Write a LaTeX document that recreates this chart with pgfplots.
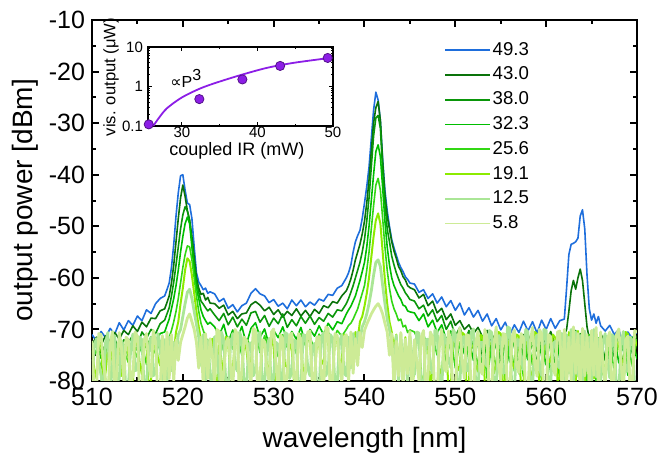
\documentclass[border=0pt]{standalone}
\usepackage{fontspec}
\setmainfont{Liberation Sans}
\newfontfamily\dejavu{DejaVu Sans}
\usepackage{pgfplots}
\pgfplotsset{compat=1.18}
\usepackage{pgfplotstable}
\definecolor{cA}{RGB}{30,110,220}
\definecolor{cB}{RGB}{10,115,10}
\definecolor{cC}{RGB}{10,150,10}
\definecolor{cD}{RGB}{0,190,0}
\definecolor{cE}{RGB}{50,215,20}
\definecolor{cF}{RGB}{140,235,0}
\definecolor{cG}{RGB}{170,230,150}
\definecolor{cH}{RGB}{205,235,150}
\definecolor{vio}{RGB}{140,30,230}

% series 49.3 (A) ... 25.6 (E)
\pgfplotstableread{
wl A B C D E
510 -71.0 -72.8 -73.8 -74.5 -76.2
510.5 -72.3 -71.5 -72.2 -72.8 -73.9
511 -70.4 -73.0 -74.6 -75.6 -77.5
511.5 -71.6 -71.2 -72.9 -73.4 -74.3
512 -69.8 -72.4 -73.5 -76.0 -75.8
512.5 -70.9 -70.6 -71.8 -72.5 -73.1
513 -68.7 -71.9 -74.0 -74.8 -77.0
513.5 -70.1 -70.2 -72.0 -73.0 -74.0
514 -68.3 -71.0 -72.6 -75.2 -76.4
514.5 -69.2 -69.3 -71.1 -72.2 -73.2
515 -67.4 -70.4 -73.2 -74.1 -75.5
515.5 -68.3 -68.6 -70.5 -71.9 -72.9
516 -66.2 -69.5 -71.7 -73.6 -76.8
516.5 -66.9 -67.8 -70.0 -71.4 -72.6
517 -65.0 -67.9 -70.8 -72.7 -74.7
517.5 -64.0 -66.4 -68.9 -70.8 -72.3
518 -63.5 -66.0 -68.2 -70.5 -73.0
518.25 -62.3 -64.8 -67.0 -69.2 -72.4
518.5 -61.0 -63.5 -65.8 -68.0 -71.5
518.75 -58.0 -61.0 -63.5 -66.0 -70.2
519 -53.5 -57.5 -60.8 -64.0 -68.5
519.25 -48.0 -53.0 -57.5 -61.5 -66.5
519.5 -43.5 -48.5 -54.0 -58.5 -64.0
519.75 -40.2 -44.5 -50.5 -55.0 -61.0
520 -40.0 -42.0 -47.8 -52.0 -58.0
520.25 -43.0 -44.2 -46.2 -49.5 -55.5
520.5 -45.5 -47.0 -47.0 -48.2 -53.8
520.75 -45.8 -48.8 -49.0 -49.5 -54.0
521 -48.5 -52.0 -53.0 -54.0 -56.5
521.25 -54.0 -56.0 -57.0 -58.5 -60.0
521.5 -59.0 -60.0 -60.8 -62.0 -63.5
521.75 -60.8 -62.0 -62.8 -64.0 -66.5
522 -61.5 -63.2 -64.5 -66.2 -68.8
522.25 -62.3 -63.0 -65.1 -67.5 -70.2
522.5 -62.0 -64.3 -65.8 -68.3 -71.3
522.75 -63.0 -63.8 -66.4 -69.0 -72.5
523 -62.7 -64.9 -66.0 -68.6 -71.8
523.5 -63.1 -65.0 -67.2 -69.5 -72.8
524 -64.6 -65.9 -68.3 -71.2 -70.9
524.5 -64.0 -65.3 -66.9 -69.0 -74.2
525 -65.9 -67.2 -69.1 -72.4 -71.5
525.5 -65.2 -66.5 -67.6 -70.1 -73.8
526 -66.6 -67.9 -69.5 -71.8 -71.1
526.5 -65.4 -67.0 -68.0 -69.4 -75.0
527 -64.9 -66.8 -69.2 -72.9 -71.8
527.5 -63.0 -65.2 -66.8 -69.8 -73.2
528 -62.1 -64.6 -66.5 -68.7 -70.6
528.5 -63.1 -65.3 -68.6 -71.5 -74.5
529 -63.5 -66.4 -67.3 -69.9 -71.2
529.5 -64.8 -65.7 -69.4 -73.0 -73.9
530 -64.2 -67.1 -67.8 -70.2 -71.7
530.5 -65.5 -66.2 -68.9 -71.6 -75.3
531 -64.9 -67.6 -67.0 -69.5 -71.0
531.5 -66.0 -66.5 -69.6 -72.2 -73.5
532 -64.3 -67.3 -68.1 -70.4 -72.2
532.5 -65.4 -66.0 -69.3 -71.9 -74.7
533 -64.3 -67.4 -67.5 -69.6 -70.8
533.5 -65.6 -66.3 -68.8 -72.8 -73.1
534 -64.7 -67.5 -67.4 -70.0 -71.4
534.5 -65.3 -66.1 -69.0 -71.3 -74.0
535 -64.1 -66.9 -67.7 -69.3 -70.9
535.5 -64.5 -65.4 -68.4 -71.0 -72.6
536 -63.2 -65.8 -66.9 -68.8 -70.5
536.5 -63.4 -64.6 -67.6 -70.1 -72.3
537 -62.0 -64.9 -66.2 -68.5 -70.2
537.5 -61.5 -63.5 -66.4 -68.9 -71.3
538 -60.0 -62.5 -65.0 -67.0 -70.0
538.25 -59.0 -61.5 -64.0 -66.2 -69.2
538.5 -57.5 -60.2 -62.8 -65.5 -68.8
538.75 -55.0 -58.5 -61.5 -64.5 -68.0
539 -53.0 -56.5 -60.0 -63.5 -67.0
539.25 -51.8 -55.0 -58.5 -62.0 -66.0
539.5 -50.8 -53.5 -57.0 -60.5 -64.5
539.75 -48.5 -51.5 -55.0 -58.8 -63.0
540 -45.5 -49.0 -52.5 -57.0 -61.5
540.25 -42.3 -45.5 -49.0 -54.0 -58.5
540.5 -38.5 -41.0 -44.5 -50.0 -55.0
540.75 -33.0 -35.5 -38.5 -45.0 -50.5
541 -27.5 -30.0 -32.5 -40.0 -46.0
541.25 -24.0 -27.0 -29.0 -35.5 -42.0
541.5 -25.5 -25.8 -28.5 -34.2 -40.7
541.75 -29.5 -29.5 -31.0 -36.5 -43.0
542 -37.0 -37.5 -39.0 -42.5 -48.5
542.25 -43.0 -44.0 -45.5 -49.0 -54.0
542.5 -47.0 -48.0 -50.5 -54.0 -58.5
542.75 -50.0 -50.5 -53.0 -57.5 -62.0
543 -52.6 -53.0 -55.8 -60.0 -64.5
543.25 -54.2 -54.8 -57.5 -61.5 -66.0
543.5 -55.6 -56.2 -59.0 -62.5 -67.0
543.75 -57.0 -57.8 -60.2 -63.5 -68.3
544 -58.0 -58.6 -61.3 -64.2 -68.0
544.25 -58.8 -59.8 -62.0 -65.3 -69.5
544.5 -59.8 -60.4 -62.9 -65.5 -69.2
544.75 -60.3 -61.5 -63.5 -66.4 -70.6
545 -61.0 -61.9 -64.2 -66.6 -70.1
545.5 -61.2 -62.3 -64.5 -66.8 -70.5
546 -62.8 -63.9 -66.0 -68.3 -72.6
546.5 -62.3 -63.2 -65.3 -67.0 -70.9
547 -64.0 -65.4 -67.4 -69.5 -73.8
547.5 -63.1 -64.5 -66.2 -68.2 -71.4
548 -64.9 -66.8 -68.5 -70.6 -75.0
548.5 -63.7 -65.9 -67.3 -69.1 -72.0
549 -65.6 -68.1 -70.0 -72.0 -76.3
549.5 -64.4 -67.0 -68.4 -70.3 -71.6
550 -66.3 -69.2 -71.3 -73.5 -77.5
550.5 -64.9 -68.3 -69.6 -71.0 -72.4
551 -67.2 -70.0 -72.5 -74.8 -78.8
551.5 -65.8 -69.1 -70.2 -71.9 -71.8
552 -67.6 -70.8 -73.8 -76.0 -72.7
552.5 -66.3 -69.6 -71.0 -72.3 -76.9
553 -68.4 -71.5 -75.2 -77.5 -71.2
553.5 -67.0 -70.2 -71.5 -71.7 -79.5
554 -69.3 -72.3 -74.0 -75.4 -73.0
554.5 -67.9 -70.5 -72.0 -72.8 -77.4
555 -70.1 -73.4 -76.1 -78.0 -72.0
555.5 -68.6 -70.9 -71.4 -72.1 -80.3
556 -71.0 -72.6 -74.7 -76.3 -71.5
556.5 -69.1 -70.3 -72.3 -71.5 -78.1
557 -70.6 -73.8 -77.0 -78.6 -72.8
557.5 -68.4 -71.0 -71.8 -73.0 -79.2
558 -70.3 -72.1 -75.3 -75.9 -71.3
558.5 -68.5 -70.6 -72.5 -71.9 -77.0
559 -70.7 -74.2 -76.4 -77.8 -72.2
559.5 -68.2 -70.8 -71.2 -72.6 -80.0
560 -70.0 -72.9 -74.9 -76.9 -71.9
560.5 -67.9 -70.4 -72.0 -71.3 -78.4
561 -69.8 -73.0 -77.2 -78.3 -72.6
561.5 -68.3 -70.7 -71.6 -72.5 -79.7
562 -68.0 -71.0 -74.5 -71.5 -79.0
562.25 -62.0 -70.0 -71.0 -77.0 -72.5
562.5 -55.5 -66.5 -76.2 -72.0 -78.0
562.75 -53.5 -62.5 -70.5 -78.2 -71.5
563 -53.3 -60.5 -73.8 -71.0 -80.5
563.25 -53.0 -62.2 -70.2 -75.5 -72.0
563.5 -52.3 -60.0 -75.0 -70.6 -77.5
563.75 -48.0 -58.3 -70.8 -76.8 -71.8
564 -46.8 -60.5 -72.5 -71.9 -79.5
564.25 -50.5 -65.0 -77.0 -74.0 -72.2
564.5 -59.5 -69.5 -71.2 -72.8 -80.0
564.75 -66.0 -71.8 -75.5 -79.0 -71.0
565 -68.2 -70.5 -71.5 -72.2 -78.2
565.25 -67.0 -73.0 -76.8 -77.6 -72.9
565.5 -68.8 -71.0 -72.0 -71.4 -80.8
565.75 -67.5 -73.5 -74.9 -78.5 -71.6
566 -69.3 -70.8 -71.3 -72.7 -77.7
566.5 -70.3 -72.5 -76.0 -72.0 -79.6
567 -69.2 -70.9 -71.5 -77.8 -72.4
567.5 -71.0 -73.6 -75.3 -71.3 -78.0
568 -70.0 -71.4 -72.2 -76.5 -71.2
568.5 -73.2 -74.0 -77.1 -72.6 -80.4
569 -70.5 -71.8 -71.0 -78.9 -72.8
569.5 -71.8 -73.3 -74.6 -71.5 -77.2
570 -70.4 -71.2 -72.3 -75.8 -71.9
}\spectra

% series 19.1 (F), 12.5 (G), 5.8 (H)
\pgfplotstableread{
wl F G H
510 -74.0 -80.5 -72.2
510.25 -77.5 -73.0 -83.0
510.5 -79.5 -71.8 -81.5
510.75 -72.5 -76.5 -70.8
511 -72.8 -78.9 -71.0
511.25 -81.0 -82.5 -76.5
511.5 -78.2 -72.5 -79.8
511.75 -73.5 -70.6 -84.0
512 -73.5 -82.0 -72.9
512.25 -76.0 -77.0 -70.4
512.5 -81.0 -71.2 -82.5
512.75 -74.2 -80.0 -78.0
513 -72.4 -79.6 -70.6
513.25 -79.0 -72.2 -73.5
513.5 -77.6 -73.4 -80.2
513.75 -72.0 -83.0 -71.5
514 -74.8 -81.2 -72.0
514.25 -83.0 -74.0 -81.0
514.5 -80.3 -70.9 -78.9
514.75 -73.0 -78.0 -70.5
515 -72.0 -77.8 -71.3
515.25 -76.5 -71.5 -83.5
515.5 -78.8 -72.1 -81.8
515.75 -72.6 -81.5 -72.0
516 -73.2 -80.8 -70.8
516.25 -81.5 -73.8 -77.0
516.5 -79.9 -71.5 -79.2
516.75 -74.0 -79.0 -70.2
517 -71.9 -78.4 -72.4
517.25 -75.5 -70.8 -84.0
517.5 -77.0 -72.8 -82.0
517.75 -72.3 -82.0 -71.2
518 -78.5 -72.0 -81.0
518.25 -73.0 -80.5 -70.5
518.5 -77.2 -71.5 -79.5
518.75 -72.0 -78.0 -71.0
519 -74.5 -72.5 -80.0
519.25 -70.5 -75.5 -72.0
519.5 -68.5 -71.0 -76.0
519.75 -65.0 -70.0 -72.5
520 -62.0 -67.5 -71.0
520.25 -58.5 -65.0 -69.5
520.5 -56.2 -62.8 -67.8
520.75 -56.8 -62.2 -67.0
521 -59.5 -64.0 -68.5
521.25 -63.0 -66.5 -70.0
521.5 -66.5 -69.0 -72.5
521.75 -69.5 -71.5 -77.5
522 -72.0 -77.0 -71.5
522.25 -76.0 -71.0 -81.0
522.5 -72.5 -80.0 -70.8
522.75 -79.0 -72.2 -79.5
523 -73.5 -78.5 -71.8
523.25 -71.8 -83.0 -75.0
523.5 -78.2 -71.4 -80.6
523.75 -82.0 -74.5 -70.0
524 -72.5 -79.8 -70.4
524.25 -75.8 -70.5 -82.5
524.5 -80.5 -72.0 -78.3
524.75 -71.4 -81.0 -72.5
525 -73.1 -81.5 -71.6
525.25 -79.0 -73.0 -77.0
525.5 -77.4 -70.8 -82.2
525.75 -72.8 -77.0 -70.0
526 -71.8 -78.1 -70.9
526.25 -82.5 -70.5 -84.0
526.5 -79.6 -71.9 -77.5
526.75 -72.0 -80.5 -71.5
527 -73.9 -82.3 -72.1
527.25 -78.0 -72.8 -76.0
527.5 -76.5 -72.6 -81.3
527.75 -71.5 -79.0 -69.8
528 -72.0 -77.9 -70.2
528.25 -80.0 -71.2 -83.0
528.5 -81.2 -70.5 -79.1
528.75 -73.5 -80.5 -72.0
529 -72.8 -80.7 -72.4
529.25 -76.8 -73.5 -78.0
529.5 -78.0 -71.7 -80.0
529.75 -71.2 -82.0 -70.5
530 -73.5 -79.3 -69.9
530.25 -82.0 -72.5 -76.5
530.5 -80.1 -72.9 -82.6
530.75 -72.5 -78.5 -71.0
531 -71.6 -81.9 -71.8
531.25 -77.0 -70.6 -83.5
531.5 -77.3 -70.9 -78.7
531.75 -72.2 -79.5 -71.2
532 -74.2 -78.4 -70.7
532.25 -80.5 -72.0 -79.0
532.5 -82.0 -72.3 -81.4
532.75 -72.0 -83.0 -70.8
533 -72.4 -80.9 -72.0
533.25 -78.5 -71.0 -84.0
533.5 -78.6 -71.2 -77.9
533.75 -71.0 -77.5 -70.5
534 -71.9 -79.0 -70.3
534.25 -81.0 -73.5 -80.0
534.5 -79.4 -72.7 -80.8
534.75 -73.0 -82.0 -71.5
535 -73.0 -82.4 -71.4
535.25 -76.0 -71.5 -78.5
535.5 -76.8 -70.6 -82.1
535.75 -70.8 -79.0 -69.5
536 -71.5 -77.7 -69.8
536.25 -82.5 -71.0 -83.0
536.5 -78.9 -71.8 -79.4
536.75 -72.0 -81.0 -70.8
537 -72.2 -80.3 -71.2
537.25 -77.5 -72.5 -76.5
537.5 -75.6 -71.0 -80.9
537.75 -71.0 -78.5 -71.5
538 -72.5 -79.0 -71.0
538.25 -77.0 -71.5 -80.2
538.5 -71.5 -77.5 -70.5
538.75 -74.5 -70.8 -78.5
539 -70.5 -75.0 -71.8
539.25 -72.0 -70.5 -77.0
539.5 -68.5 -72.0 -70.6
539.75 -67.5 -69.5 -73.5
540 -65.5 -68.5 -70.2
540.25 -63.0 -67.0 -69.0
540.5 -60.0 -65.0 -68.0
540.75 -56.0 -62.5 -67.0
541 -52.0 -59.5 -66.2
541.25 -48.8 -57.0 -65.5
541.5 -47.5 -56.5 -65.0
541.75 -49.5 -57.8 -65.8
542 -55.0 -61.5 -67.0
542.25 -60.5 -65.0 -68.8
542.5 -65.0 -68.0 -70.5
542.75 -68.5 -70.0 -75.0
543 -70.5 -72.5 -70.8
543.25 -73.5 -78.0 -81.5
543.5 -71.0 -71.2 -72.3
543.75 -76.5 -80.5 -79.0
544 -72.0 -70.9 -70.6
544.25 -78.0 -79.0 -82.0
544.5 -71.5 -72.0 -71.9
544.75 -77.5 -81.0 -78.6
545 -72.8 -71.3 -70.4
545.25 -81.0 -75.5 -83.0
545.5 -77.9 -78.8 -72.0
545.75 -72.0 -70.5 -76.0
546 -71.7 -70.7 -80.1
546.25 -79.0 -82.5 -71.5
546.5 -80.4 -81.0 -70.2
546.75 -73.0 -72.0 -82.0
547 -72.9 -71.9 -79.0
547.25 -83.0 -77.0 -70.5
547.5 -76.3 -78.5 -71.5
547.75 -71.5 -70.2 -84.0
548 -71.2 -70.3 -82.4
548.25 -77.5 -80.0 -73.0
548.5 -79.2 -82.1 -70.0
548.75 -72.4 -71.0 -77.5
549 -73.6 -72.2 -78.2
549.25 -81.5 -76.0 -70.3
549.5 -81.5 -77.4 -72.3
549.75 -72.0 -70.0 -83.0
550 -72.1 -70.8 -81.6
550.25 -78.0 -83.0 -72.0
550.5 -77.1 -80.5 -69.7
550.75 -70.6 -71.5 -76.0
551 -71.0 -71.4 -79.5
551.25 -82.0 -78.0 -71.0
551.5 -80.0 -78.0 -71.2
551.75 -73.0 -70.5 -82.0
552 -73.3 -69.9 -82.8
552.25 -77.0 -81.0 -72.5
552.5 -78.2 -81.7 -70.4
552.75 -71.0 -72.5 -78.0
553 -71.5 -72.5 -78.7
553.25 -80.5 -76.5 -70.0
553.5 -82.0 -77.2 -71.9
553.75 -72.5 -70.2 -83.5
554 -72.6 -70.6 -81.3
554.25 -78.5 -82.0 -72.8
554.5 -76.9 -80.9 -69.5
554.75 -70.5 -71.2 -77.0
555 -70.8 -71.8 -79.9
555.25 -81.5 -78.5 -70.8
555.5 -79.7 -78.3 -71.0
555.75 -72.0 -69.5 -83.0
556 -73.2 -69.8 -82.0
556.25 -76.5 -83.5 -71.5
556.5 -77.6 -82.3 -70.1
556.75 -71.0 -72.0 -77.0
557 -71.3 -72.0 -78.4
557.25 -82.5 -76.0 -70.8
557.5 -80.6 -77.8 -71.7
557.75 -72.5 -70.0 -82.5
558 -72.4 -70.5 -81.8
558.25 -79.5 -81.0 -72.5
558.5 -78.0 -81.2 -69.6
558.75 -70.5 -72.5 -76.5
559 -70.9 -71.1 -79.1
559.25 -81.0 -77.5 -70.0
559.5 -81.1 -78.9 -70.8
559.75 -73.5 -70.0 -83.5
560 -73.0 -70.2 -82.5
560.25 -76.0 -82.0 -71.0
560.5 -76.4 -80.4 -71.4
560.75 -71.0 -72.8 -77.5
561 -71.6 -72.3 -78.9
561.25 -80.0 -77.0 -70.5
561.5 -79.3 -77.5 -70.3
561.75 -72.0 -70.8 -82.0
562 -72.0 -80.5 -70.0
562.25 -80.0 -71.0 -81.5
562.5 -70.5 -78.5 -71.5
562.75 -77.5 -70.0 -80.0
563 -71.2 -81.5 -69.5
563.25 -81.0 -70.5 -78.5
563.5 -70.3 -79.0 -70.8
563.75 -78.0 -71.2 -82.5
564 -71.5 -82.0 -69.8
564.25 -80.5 -70.3 -79.0
564.5 -72.0 -78.0 -71.0
564.75 -76.5 -71.5 -81.8
565 -70.8 -81.0 -70.2
565.25 -79.5 -70.0 -78.9
565.5 -72.5 -79.2 -69.6
565.75 -81.2 -71.8 -82.0
566 -71.0 -80.0 -70.5
566.25 -78.0 -72.5 -77.0
566.5 -77.5 -70.8 -81.3
566.75 -72.0 -76.0 -71.8
567 -71.3 -79.4 -70.5
567.25 -81.5 -71.0 -83.0
567.5 -80.2 -71.6 -78.8
567.75 -72.5 -82.5 -71.0
568 -72.7 -81.8 -69.9
568.25 -77.0 -73.0 -76.5
568.5 -76.0 -70.4 -82.2
568.75 -70.5 -78.0 -72.0
569 -70.9 -78.1 -71.3
569.25 -82.0 -71.5 -82.5
569.5 -81.4 -72.2 -79.6
569.75 -72.0 -81.5 -70.2
570 -73.1 -80.7 -70.6
}\floor

\pgfplotstableread{
P V
25.6 0.11
32.3 0.48
38.0 1.51
43.0 3.32
49.3 5.28
}\visdata

\pgfplotstableread{
P V
26.2 0.100
26.9 0.156
28.0 0.28
30.0 0.53
32.4 0.89
34.6 1.26
37.7 1.93
41.2 2.95
44.7 3.95
49.3 5.20
}\fitdata

\begin{document}
\begin{tikzpicture}
\path[use as bounding box] (-46pt,-37.5pt) rectangle (289.5pt,190.5pt);
\begin{axis}[
  at={(0,0)}, anchor=south west,
  scale only axis, width=272.5pt, height=180.5pt,
  xmin=510, xmax=570, ymin=-80, ymax=-10,
  xtick={510,520,530,540,550,560,570},
  xticklabels={510,520,530,540,550,560,570},
  ytick={-80,-70,-60,-50,-40,-30,-20,-10},
  yticklabels={-80,-70,-60,-50,-40,-30,-20,-10},
  minor x tick num=1, minor y tick num=1,
  tick align=inside,
  major tick length=3.5pt, minor tick length=2pt,
  every tick/.style={black, line width=1pt},
  axis line style={line width=1.1pt},
  tick label style={font=\fontsize{12.5}{14}\selectfont},
  label style={font=\fontsize{14}{16}\selectfont},
  xlabel={wavelength [nm]}, ylabel={output power [dBm]},
  xlabel style={at={(axis description cs:0.5,-0.163)}, anchor=center},
  ylabel style={at={(axis description cs:-0.123,0.5)}, anchor=center},
  legend cell align=left,
  legend style={draw=none, fill=none, at={(0.646,0.952)}, anchor=north west,
    inner xsep=0pt, inner ysep=0pt,
    nodes={inner xsep=0.8pt, inner ysep=2.2pt},
    font=\fontsize{9.3}{10}\selectfont},
  legend image code/.code={\draw[#1, line width=0.8pt] (0pt,0pt) -- (22.5pt,0pt);},
  every axis plot/.append style={line width=0.8pt, line join=round},
]
\addplot[cA] table[x=wl,y=A] {\spectra}; \addlegendentry{49.3}
\addplot[cB] table[x=wl,y=B] {\spectra}; \addlegendentry{43.0}
\addplot[cC] table[x=wl,y=C] {\spectra}; \addlegendentry{38.0}
\addplot[cD] table[x=wl,y=D] {\spectra}; \addlegendentry{32.3}
\addplot[cE] table[x=wl,y=E] {\spectra}; \addlegendentry{25.6}
\addplot[cF, line width=1.0pt] table[x=wl,y=F] {\floor}; \addlegendentry{19.1}
\addplot[cG, line width=1.4pt] table[x=wl,y=G] {\floor}; \addlegendentry{12.5}
\addplot[cH, line width=1.4pt] table[x=wl,y=H] {\floor}; \addlegendentry{5.8}
\end{axis}

\begin{axis}[
  at={(28pt,127.5pt)}, anchor=south west,
  scale only axis, width=92.5pt, height=39.5pt,
  xmin=25.5, xmax=50, ymode=log, ymin=0.1, ymax=10,
  xtick={30,40,50}, xticklabels={30,40,50},
  ytick={0.1,1,10}, yticklabels={0.1,1,10},
  minor x tick num=1,
  tick align=inside,
  major tick length=2pt, minor tick length=1.2pt,
  every tick/.style={black, line width=0.5pt},
  axis line style={line width=0.6pt},
  tick label style={font=\fontsize{7.5}{9}\selectfont},
  xticklabel style={yshift=3pt},
  yticklabel style={xshift=1pt},
  xlabel={coupled IR (mW)}, ylabel={vis. output (μW)},
  xlabel style={font=\fontsize{9}{10}\selectfont, at={(axis description cs:0.48,-0.31)}, anchor=center},
  ylabel style={font=\fontsize{8.3}{9}\selectfont, at={(axis description cs:-0.2,0.62)}, anchor=center},
  clip=false,
]
\addplot[vio, line width=0.9pt, smooth] table[x=P,y=V] {\fitdata};
\addplot[only marks, mark=*, mark size=2.3pt, mark options={fill=vio, draw=vio!60!black, line width=0.4pt}] table[x=P,y=V] {\visdata};
\node[anchor=base west, font=\fontsize{8}{9}\selectfont, inner sep=0pt] at (axis cs:28.4,0.96) {{\dejavu ∝}P\raisebox{3.5pt}{3}};
\end{axis}
\end{tikzpicture}
\end{document}
